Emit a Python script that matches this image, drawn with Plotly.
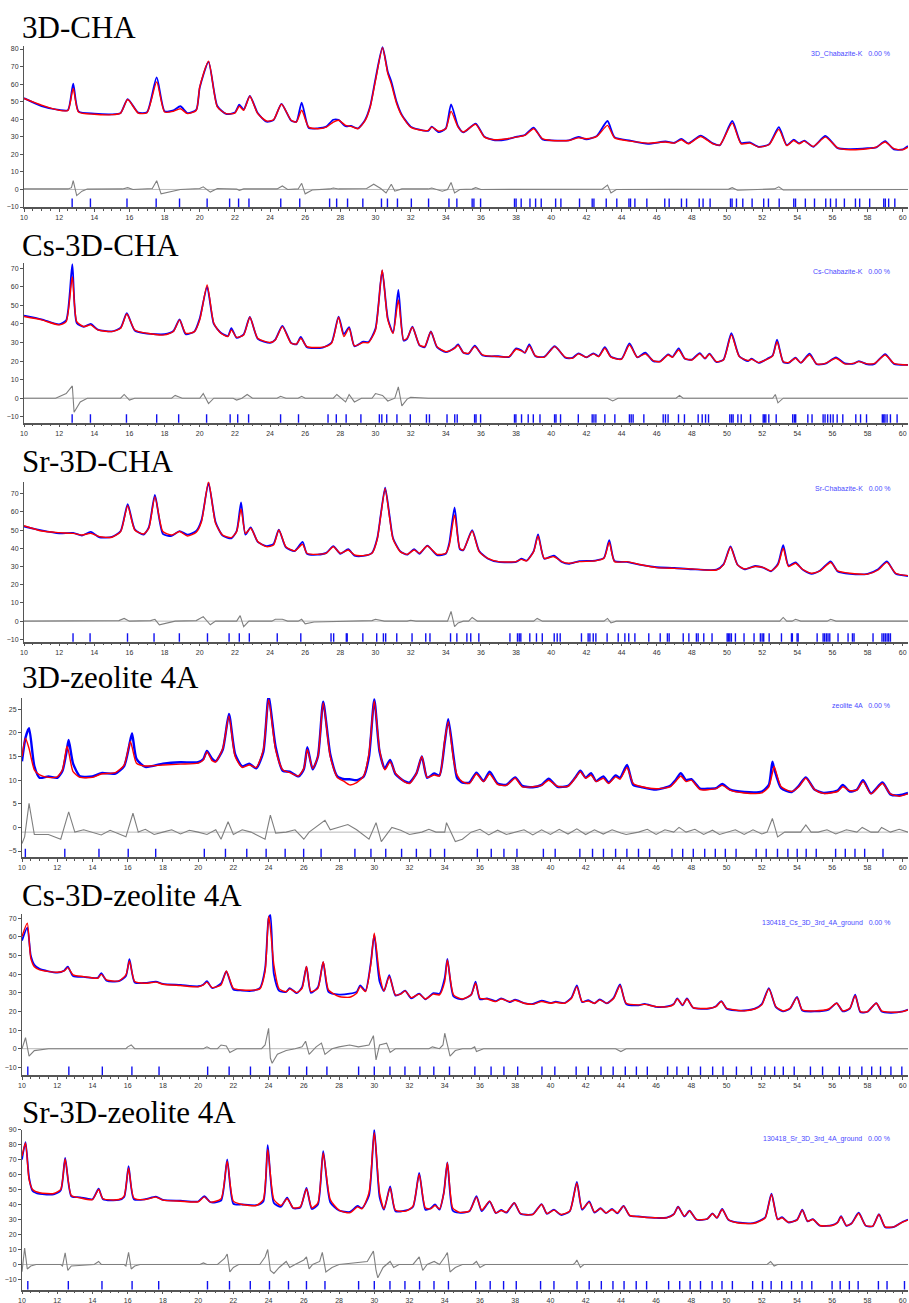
import plotly.graph_objects as go

W, H = 909, 1303

# ======================= DATA =======================
# ---------- Panel 1 : 3D-CHA ----------
p1_tth = [10.0, 11.0, 12.0, 12.5, 12.8, 13.1, 14.0, 15.0, 15.5, 15.9,
          16.5, 17.0, 17.55, 18.0, 18.5, 18.9, 19.3, 19.8, 20.0, 20.5,
          21.0, 21.5, 22.0, 22.25, 22.5, 22.85, 23.3, 23.8, 24.2, 24.65,
          25.2, 25.5, 25.8, 26.2, 26.7, 27.2, 27.6, 27.9, 28.3, 28.6,
          29.0, 29.4, 29.7, 30.0, 30.4, 30.7, 30.9, 31.2, 31.5, 32.0,
          32.45, 33.0, 33.2, 33.6, 34.0, 34.3, 34.7, 35.0, 35.7, 36.2,
          36.8, 37.5, 38.0, 38.5, 39.0, 39.5, 40.0, 41.0, 41.55, 42.0,
          42.6, 43.2, 43.6, 44.5, 45.5, 46.5, 47.0, 47.4, 47.8, 48.5,
          49.2, 49.6, 50.3, 50.8, 51.3, 51.8, 52.4, 52.95, 53.4, 53.8,
          54.1, 54.4, 54.9, 55.6, 56.3, 57.0, 58.0, 58.5, 59.0, 59.5,
          60.0, 60.3]
p1_calc = [51.8, 48.0, 45.1, 45.0, 57.5, 44.1, 42.8, 42.6, 43.5, 51.2,
           43.5, 43.7, 61.3, 44.1, 44.5, 46.0, 43.2, 45.0, 58.4, 73.1,
           47.0, 43.2, 43.5, 47.4, 45.1, 53.1, 43.2, 39.0, 39.7, 48.5,
           39.4, 38.4, 45.1, 35.5, 34.6, 35.5, 38.4, 39.4, 36.5, 35.9,
           34.6, 39.0, 47.0, 62.0, 80.8, 66.0, 60.0, 49.0, 42.0, 35.5,
           34.0, 33.6, 35.5, 33.2, 34.6, 44.5, 35.5, 32.7, 37.1, 29.8,
           28.3, 28.9, 29.8, 30.8, 34.6, 28.9, 27.9, 27.9, 29.4, 28.9,
           30.2, 36.5, 29.4, 27.5, 26.4, 27.0, 26.4, 28.3, 26.0, 30.2,
           26.0, 25.4, 37.8, 26.0, 26.4, 24.1, 25.6, 34.2, 25.0, 27.9,
           26.0, 27.5, 24.5, 29.8, 23.7, 22.6, 23.2, 24.1, 27.0, 23.2,
           22.6, 24.1]
p1_obs = [52.0, 47.5, 45.3, 45.2, 60.3, 44.5, 43.2, 42.8, 43.6, 51.5,
          43.8, 44.0, 63.8, 44.6, 45.0, 47.4, 43.5, 45.3, 58.0, 72.7,
          47.5, 43.0, 43.8, 48.3, 45.5, 53.3, 43.5, 38.6, 39.5, 48.8,
          39.2, 38.6, 49.5, 35.0, 34.8, 35.8, 39.7, 39.6, 36.0, 36.2,
          34.8, 39.5, 47.5, 63.0, 81.0, 67.0, 61.5, 50.0, 42.5, 35.8,
          34.2, 33.4, 35.8, 32.6, 34.8, 48.5, 36.0, 32.5, 37.5, 30.0,
          28.0, 28.6, 30.0, 31.0, 35.2, 28.5, 28.0, 28.0, 30.0, 28.5,
          30.5, 39.0, 29.8, 27.8, 26.0, 27.3, 26.6, 28.8, 26.2, 30.6,
          26.2, 25.2, 39.0, 26.5, 26.8, 24.3, 25.8, 35.5, 25.3, 28.3,
          26.3, 27.8, 24.3, 30.5, 23.5, 23.0, 23.5, 24.0, 27.5, 22.8,
          22.8, 24.8]
p1_diff_tth = [10.0, 12.5, 12.7, 12.8, 13.0, 13.3, 13.6, 15.6, 15.9, 16.2,
               17.3, 17.55, 17.8, 18.2, 18.5, 18.9, 20.0, 20.2, 20.6, 21.0,
               22.1, 22.25, 22.5, 24.4, 24.7, 25.0, 25.6, 25.8, 26.0, 26.4,
               27.4, 27.6, 27.9, 29.5, 29.9, 30.3, 30.6, 30.9, 31.1, 31.5,
               33.0, 33.2, 33.8, 34.1, 34.3, 34.5, 34.8, 35.5, 35.7, 36.0,
               42.9, 43.2, 43.4, 43.7, 50.1, 50.3, 50.6, 52.7, 52.95, 53.2,
               60.3]
p1_diff = [0.3, 0.3, 1.0, 5.0, -3.5, -1.0, 0.2, 0.3, 1.0, 0.0,
           0.5, 5.0, -2.5, -1.5, -1.0, 0.0, 0.5, 1.5, -1.5, 0.5,
           0.2, -0.5, 0.3, 0.3, 2.0, 0.0, 0.3, 3.5, -2.5, -0.3,
           0.3, 0.8, 0.3, 0.5, 3.0, 0.5, -2.0, 3.0, -1.0, 0.3,
           0.3, 0.8, -1.0, 0.0, 4.0, -2.0, 0.0, 0.2, 1.0, 0.0,
           0.2, 2.5, -2.0, 0.0, 0.2, 1.0, -0.5, 0.3, 1.5, -0.3,
           0.0]
p1_refl = [12.74, 13.78, 15.86, 17.52, 18.85, 20.42, 21.70, 22.21, 22.80, 24.61,
           25.69, 27.39, 27.79, 28.41, 29.28, 30.34, 30.68, 31.25, 32.04, 33.02,
           34.18, 34.63, 35.5, 35.6, 35.98, 37.91, 38.0, 38.29, 38.79, 39.11,
           39.43, 40.25, 40.55, 41.61, 42.33, 42.43, 43.13, 43.73, 44.42, 44.51,
           44.76, 45.44, 46.46, 46.71, 47.41, 47.70, 48.42, 48.64, 49.04, 50.2,
           50.29, 50.54, 50.90, 51.43, 52.09, 52.36, 52.97, 53.8, 53.9, 54.46,
           54.98, 55.62, 55.89, 56.21, 56.68, 57.31, 57.55, 58.12, 58.92, 59.01,
           59.2, 59.55]

# ---------- Panel 2 : Cs-3D-CHA ----------
p2_tth = [10.0, 11.0, 12.0, 12.4, 12.75, 13.0, 13.4, 13.8, 14.2, 15.0,
          15.5, 15.85, 16.3, 17.0, 18.0, 18.5, 18.85, 19.2, 19.7, 20.0,
          20.42, 20.8, 21.2, 21.6, 21.8, 22.1, 22.5, 22.85, 23.3, 24.0,
          24.3, 24.7, 25.2, 25.5, 25.75, 26.1, 27.0, 27.5, 27.9, 28.2,
          28.5, 28.8, 29.3, 29.6, 30.0, 30.38, 30.7, 31.0, 31.3, 31.6,
          31.8, 32.1, 32.5, 32.8, 33.15, 33.5, 34.0, 34.5, 34.7, 35.0,
          35.3, 35.65, 36.1, 37.0, 37.6, 38.0, 38.3, 38.5, 38.75, 39.1,
          39.6, 40.2, 40.8, 41.2, 41.55, 42.0, 42.4, 42.7, 43.05, 43.4,
          44.0, 44.45, 44.9, 45.35, 45.8, 46.2, 46.65, 46.9, 47.25, 47.6,
          48.0, 48.45, 48.75, 49.0, 49.4, 49.8, 50.25, 50.7, 51.2, 51.4,
          51.8, 52.3, 52.6, 52.85, 53.2, 53.5, 53.9, 54.2, 54.7, 55.1,
          55.6, 56.2, 56.7, 57.2, 57.5, 58.0, 58.4, 59.0, 59.5, 60.3]
p2_calc = [44.0, 42.2, 39.5, 41.3, 65.5, 41.3, 38.6, 39.5, 36.8, 35.9,
           37.7, 45.4, 36.8, 35.0, 34.1, 35.9, 42.2, 35.0, 35.9, 42.2,
           61.0, 40.4, 35.0, 33.2, 36.8, 32.8, 34.1, 43.6, 32.3, 30.0,
           31.4, 38.6, 29.6, 29.2, 32.3, 27.8, 27.5, 29.6, 43.6, 33.2,
           37.7, 28.2, 30.0, 30.0, 36.8, 69.1, 42.2, 35.0, 52.9, 31.4,
           32.3, 38.2, 28.7, 27.8, 35.9, 27.8, 25.1, 26.9, 28.5, 24.6,
           24.2, 27.8, 23.3, 22.4, 22.4, 26.4, 25.5, 24.6, 28.2, 22.8,
           22.1, 27.8, 22.1, 21.5, 23.9, 22.1, 23.9, 22.4, 26.9, 22.1,
           21.0, 28.7, 22.1, 23.9, 20.3, 19.7, 23.3, 22.1, 26.0, 21.5,
           20.6, 23.9, 21.5, 23.7, 19.7, 20.6, 34.1, 22.4, 20.3, 21.0,
           19.2, 21.0, 22.8, 30.5, 19.7, 19.2, 21.5, 19.2, 23.3, 18.5,
           18.8, 21.5, 18.5, 18.8, 19.7, 18.5, 18.8, 23.3, 18.8, 17.9]
p2_obs = [44.5, 42.5, 39.8, 42.0, 72.3, 40.5, 38.5, 40.0, 37.0, 36.0,
          38.0, 45.8, 36.5, 34.8, 34.5, 36.2, 42.5, 34.5, 36.0, 43.0,
          60.0, 40.0, 35.3, 33.5, 37.7, 32.5, 34.4, 43.8, 32.0, 29.8,
          31.6, 39.0, 29.8, 29.0, 33.0, 27.5, 27.3, 30.0, 44.0, 34.5,
          38.3, 28.0, 30.5, 30.3, 37.5, 68.7, 43.0, 35.3, 58.3, 31.0,
          32.0, 38.5, 28.5, 27.5, 36.0, 27.5, 24.8, 27.2, 29.0, 24.5,
          24.0, 28.3, 23.0, 22.6, 22.2, 26.8, 25.8, 24.4, 29.0, 22.6,
          22.3, 28.0, 21.8, 21.7, 24.2, 22.0, 24.2, 22.6, 27.5, 22.3,
          21.2, 29.5, 22.0, 24.5, 20.0, 19.9, 23.6, 22.3, 26.8, 21.3,
          20.8, 24.3, 21.3, 24.0, 19.5, 20.8, 35.0, 22.6, 20.0, 21.3,
          19.0, 21.3, 23.0, 31.5, 19.5, 19.0, 21.8, 19.0, 24.0, 18.3,
          18.6, 22.0, 18.8, 18.6, 20.0, 18.2, 18.5, 23.8, 18.5, 18.0]
p2_diff_tth = [10.0, 11.8, 12.4, 12.75, 12.85, 13.2, 13.6, 15.5, 15.7, 16.0,
               16.3, 18.4, 18.6, 19.0, 20.0, 20.2, 20.5, 20.8, 21.9, 22.1,
               22.4, 22.7, 23.0, 24.4, 24.6, 24.9, 25.6, 25.8, 26.0, 27.6,
               27.8, 28.3, 28.5, 28.8, 29.2, 29.8, 30.0, 30.4, 30.7, 31.1,
               31.3, 31.5, 31.8, 32.0, 33.0, 43.2, 43.5, 43.8, 47.1, 47.3,
               47.5, 52.6, 52.75, 52.9, 53.2, 60.3]
p2_diff = [0.0, 0.0, 2.5, 6.6, -7.6, -2.0, 0.0, 0.0, 2.0, -1.0,
           0.0, 0.0, 1.5, 0.0, 0.0, 2.5, -2.9, 0.0, 0.0, -1.0,
           0.0, 2.0, 0.0, 0.0, 1.0, 0.0, 0.0, 1.0, 0.0, 0.0,
           2.0, -2.0, 2.0, -2.0, 0.0, 0.0, 2.5, 1.5, -1.5, 0.0,
           6.1, -4.1, -0.5, 0.5, 0.0, 0.0, -1.5, 0.0, 0.0, 1.5,
           0.0, 0.0, 2.0, -2.5, 0.0, 0.0]
p2_refl = [12.74, 13.78, 15.83, 17.55, 18.80, 20.39, 21.73, 22.16, 22.78, 24.60,
           25.62, 27.30, 27.77, 28.33, 29.17, 30.22, 30.36, 30.64, 31.22, 31.98,
           32.90, 33.07, 34.07, 34.51, 34.65, 35.64, 35.72, 35.98, 37.91, 37.99,
           38.31, 38.69, 38.98, 39.36, 40.19, 40.27, 40.53, 41.54, 42.33, 42.43,
           42.54, 43.05, 43.62, 44.45, 44.55, 44.66, 45.27, 46.37, 46.50, 46.65,
           47.24, 47.58, 48.36, 48.59, 48.78, 48.95, 50.16, 50.26, 50.35, 50.62,
           50.81, 51.34, 52.06, 52.13, 52.21, 52.38, 52.80, 53.74, 53.84, 53.91,
           54.60, 54.84, 55.47, 55.58, 55.73, 55.89, 56.04, 56.27, 56.59, 57.33,
           57.60, 57.94, 58.84, 58.92, 58.99, 59.11, 59.30, 59.68]

# ---------- Panel 3 : Sr-3D-CHA ----------
p3_tth = [10.0, 11.0, 12.0, 12.8, 13.3, 13.8, 14.3, 15.0, 15.5, 15.9,
          16.3, 16.8, 17.1, 17.45, 17.9, 18.4, 18.85, 19.3, 19.8, 20.1,
          20.5, 20.9, 21.3, 21.8, 22.1, 22.35, 22.6, 22.9, 23.3, 23.8,
          24.2, 24.5, 24.9, 25.4, 25.85, 26.1, 26.7, 27.2, 27.6, 28.0,
          28.45, 28.8, 29.3, 29.8, 30.1, 30.3, 30.55, 30.8, 31.0, 31.4,
          31.8, 32.2, 32.5, 32.95, 33.5, 34.0, 34.2, 34.5, 34.8, 35.0,
          35.5, 35.9, 36.4, 37.0, 38.0, 38.3, 38.6, 39.0, 39.25, 39.6,
          40.15, 40.6, 41.0, 41.6, 42.5, 43.0, 43.3, 43.6, 44.3, 45.0,
          46.0, 47.0, 48.0, 49.4, 49.8, 50.2, 50.6, 51.0, 51.6, 52.1,
          52.5, 52.9, 53.2, 53.5, 53.9, 54.3, 54.8, 55.3, 55.9, 56.3,
          57.0, 58.0, 58.6, 59.1, 59.6, 60.3]
p3_calc = [52.4, 49.5, 48.6, 48.2, 47.3, 48.2, 46.4, 46.1, 49.2, 63.4,
           50.1, 47.9, 51.0, 68.4, 49.2, 47.3, 49.2, 46.8, 48.8, 54.6,
           76.6, 53.7, 47.3, 45.9, 49.2, 61.6, 48.2, 51.0, 43.7, 40.9,
           41.8, 50.1, 40.9, 38.6, 42.2, 37.3, 36.7, 37.3, 40.9, 37.3,
           39.1, 36.4, 36.0, 37.3, 45.0, 58.0, 72.9, 57.0, 45.0, 38.2,
           36.7, 39.1, 37.3, 41.3, 36.7, 37.3, 41.8, 58.3, 40.0, 39.1,
           49.5, 38.2, 34.5, 32.7, 32.7, 33.9, 33.1, 38.2, 46.8, 34.5,
           35.4, 32.7, 31.8, 32.7, 33.1, 34.5, 43.3, 32.7, 32.7, 31.2,
           29.4, 29.0, 28.7, 28.1, 30.9, 40.6, 30.9, 28.7, 30.0, 29.4,
           27.6, 30.9, 40.0, 30.0, 31.8, 28.5, 26.3, 27.6, 32.2, 27.6,
           26.3, 25.8, 28.1, 32.3, 26.3, 25.0]
p3_obs = [52.0, 49.8, 48.2, 48.5, 47.0, 49.0, 46.0, 46.3, 49.5, 64.2,
          50.5, 47.5, 51.5, 69.3, 48.0, 46.8, 49.5, 47.5, 49.5, 55.5,
          75.7, 54.5, 47.0, 45.5, 49.5, 65.2, 47.5, 51.5, 43.5, 41.2,
          42.5, 50.3, 40.5, 38.5, 43.5, 37.0, 36.5, 37.5, 41.2, 37.0,
          39.5, 36.0, 35.8, 37.5, 45.5, 58.5, 73.3, 58.0, 45.5, 38.5,
          36.5, 39.6, 37.0, 41.5, 36.2, 37.0, 43.0, 62.5, 39.5, 39.0,
          50.0, 38.5, 34.3, 32.5, 32.5, 34.3, 33.3, 38.5, 47.7, 34.3,
          36.0, 32.5, 31.5, 33.0, 33.3, 34.8, 44.5, 33.0, 32.5, 31.0,
          29.6, 29.2, 28.5, 28.3, 31.2, 41.0, 31.0, 28.5, 30.3, 29.2,
          27.4, 31.5, 41.8, 30.5, 32.3, 28.3, 26.0, 27.8, 32.8, 27.3,
          26.0, 26.0, 28.5, 32.8, 26.0, 24.8]
p3_diff_tth = [10.0, 15.4, 15.7, 16.0, 17.2, 17.45, 17.7, 18.2, 18.6, 19.8,
               20.2, 20.6, 20.9, 22.1, 22.3, 22.5, 22.8, 24.1, 24.3, 24.7,
               25.0, 25.6, 25.8, 26.0, 26.5, 29.8, 30.0, 30.5, 31.8, 32.0,
               32.3, 34.1, 34.3, 34.5, 34.7, 35.0, 35.3, 35.5, 35.8, 39.0,
               39.2, 39.5, 43.0, 43.2, 43.4, 43.7, 53.0, 53.2, 53.4, 53.7,
               53.9, 54.2, 55.7, 55.9, 56.2, 60.3]
p3_diff = [0.0, 0.3, 1.5, 0.0, 0.3, 1.0, -2.0, -1.0, 0.0, 0.3,
           2.5, -2.0, 0.0, 0.0, 3.0, -3.0, 0.0, 0.0, 1.0, 1.0,
           0.0, 0.0, 1.0, -1.5, -0.5, 0.3, 1.0, 0.0, 0.0, 0.5,
           0.0, 0.0, 5.3, -3.0, -1.0, 0.0, 0.0, 2.0, 0.0, 0.0,
           1.5, 0.0, 0.0, 1.5, -1.0, 0.0, 0.0, 2.0, 0.0, 0.0,
           1.0, 0.0, 0.0, 1.0, 0.0, 0.0]
p3_refl = [12.79, 13.76, 15.89, 17.40, 18.84, 20.44, 21.67, 22.25, 22.82, 24.41,
           25.75, 27.47, 27.62, 28.34, 28.39, 29.28, 30.07, 30.45, 30.58, 31.21,
           32.08, 32.86, 33.10, 34.27, 34.63, 35.2, 35.42, 35.88, 37.65, 38.08,
           38.18, 38.27, 38.78, 39.16, 39.49, 40.17, 40.34, 40.51, 41.72, 42.1,
           42.2, 42.39, 42.54, 43.18, 43.81, 44.19, 44.41, 44.76, 45.55, 46.2,
           46.61, 46.71, 47.51, 47.83, 48.26, 48.36, 48.68, 49.15, 50.01, 50.08,
           50.16, 50.25, 50.48, 50.97, 51.54, 51.9, 52.0, 52.09, 52.4, 53.1,
           53.67, 53.72, 53.99, 54.05, 55.13, 55.47, 55.56, 55.66, 55.75, 55.85,
           56.32, 56.89, 57.14, 57.23, 58.31, 58.82, 58.92, 59.01, 59.11, 59.2,
           59.3]

# ---------- Panel 4 : 3D-zeolite 4A ----------
p4_tth = [10.0, 10.2, 10.4, 10.7, 11.0, 11.5, 12.0, 12.3, 12.55, 12.65,
          12.9, 13.3, 14.0, 14.5, 15.3, 15.8, 16.15, 16.25, 16.5, 17.0,
          18.0, 19.0, 20.0, 20.3, 20.5, 20.8, 21.0, 21.4, 21.75, 22.1,
          22.5, 22.9, 23.3, 23.7, 24.0, 24.4, 24.8, 25.2, 25.7, 26.0,
          26.2, 26.5, 26.8, 27.1, 27.5, 27.9, 28.3, 28.6, 29.0, 29.4,
          29.7, 30.0, 30.3, 30.6, 30.9, 31.2, 31.7, 32.0, 32.4, 32.7,
          33.0, 33.4, 33.7, 34.0, 34.2, 34.5, 34.7, 35.0, 35.4, 35.8,
          36.2, 36.55, 37.0, 37.5, 38.0, 38.4, 39.0, 39.5, 39.9, 40.4,
          41.0, 41.4, 41.7, 42.0, 42.3, 42.6, 43.0, 43.3, 43.7, 43.95,
          44.35, 44.7, 45.2, 46.0, 46.8, 47.1, 47.4, 47.7, 48.0, 48.5,
          49.0, 49.4, 49.75, 50.2, 51.0, 52.0, 52.4, 52.6, 52.7, 53.1,
          53.7, 54.1, 54.5, 55.0, 55.5, 56.3, 56.6, 57.0, 57.4, 57.75,
          58.2, 58.85, 59.3, 59.8, 60.3]
p4_calc = [15.0, 18.9, 16.7, 12.2, 11.1, 10.6, 10.7, 12.2, 17.2, 16.0,
           11.8, 10.6, 10.6, 11.3, 11.6, 13.2, 18.2, 17.0, 13.6, 13.0,
           13.2, 13.4, 13.6, 14.3, 16.0, 14.1, 13.9, 16.7, 23.6, 15.0,
           12.7, 13.2, 12.7, 16.4, 27.1, 16.4, 12.2, 11.6, 10.9, 12.5,
           16.5, 12.5, 15.0, 26.4, 15.0, 10.6, 9.7, 9.0, 9.5, 10.9,
           15.7, 26.8, 16.4, 12.2, 13.9, 11.5, 9.7, 9.3, 11.5, 15.0,
           10.6, 11.1, 10.9, 18.5, 22.4, 14.3, 11.1, 9.7, 9.3, 11.3,
           9.7, 11.3, 9.1, 8.9, 10.4, 8.6, 8.6, 8.9, 10.0, 8.7,
           8.7, 10.4, 11.8, 10.4, 11.1, 9.7, 10.4, 9.3, 10.7, 10.2,
           12.7, 9.3, 8.6, 8.2, 8.6, 9.7, 10.9, 9.7, 10.0, 8.0,
           8.0, 8.2, 8.9, 7.9, 7.3, 7.3, 8.6, 11.5, 12.9, 8.6,
           7.6, 8.6, 10.4, 8.0, 7.2, 7.6, 8.6, 7.8, 7.9, 9.7,
           7.1, 9.3, 7.1, 6.6, 7.1]
p4_obs = [14.0, 19.0, 21.0, 13.0, 10.5, 10.8, 10.5, 12.0, 16.5, 18.5,
          13.5, 10.8, 10.8, 11.5, 11.4, 13.0, 18.5, 19.9, 14.5, 12.8,
          13.5, 13.8, 13.8, 14.5, 16.2, 14.5, 14.0, 16.5, 24.0, 15.5,
          12.9, 13.5, 12.5, 16.0, 27.7, 17.0, 12.0, 11.8, 10.8, 12.3,
          17.0, 12.3, 15.0, 26.6, 15.5, 10.8, 10.2, 10.2, 10.0, 10.8,
          15.0, 27.1, 16.0, 12.5, 14.3, 11.3, 9.8, 9.5, 11.5, 15.0,
          10.5, 11.4, 11.0, 18.0, 22.9, 15.0, 10.5, 9.5, 9.5, 11.6,
          9.8, 11.8, 9.3, 9.0, 10.6, 8.8, 8.5, 9.0, 10.3, 8.6,
          8.8, 10.5, 12.0, 10.5, 11.5, 9.8, 10.8, 9.5, 11.0, 10.5,
          13.2, 9.0, 8.5, 8.0, 8.8, 10.0, 11.5, 10.0, 10.2, 8.2,
          8.2, 8.3, 9.2, 8.0, 7.5, 7.6, 9.0, 13.9, 12.5, 8.3,
          7.5, 8.8, 10.6, 8.0, 7.3, 7.8, 9.0, 7.6, 8.0, 10.0,
          7.2, 9.5, 7.0, 6.8, 7.3]
p4_diff_tth = [10.0, 10.15, 10.4, 10.7, 11.5, 12.2, 12.65, 13.0, 13.5, 14.0,
               14.5, 15.0, 15.5, 15.9, 16.3, 16.6, 17.0, 17.5, 18.0, 18.5,
               19.0, 19.5, 20.0, 20.5, 21.0, 21.3, 21.7, 22.0, 22.5, 23.0,
               23.8, 24.1, 24.4, 25.0, 25.5, 26.0, 26.3, 27.2, 27.5, 28.5,
               29.0, 29.7, 30.1, 30.4, 31.0, 31.5, 32.0, 32.7, 33.1, 33.5,
               34.0, 34.1, 34.6, 35.0, 35.5, 36.0, 36.5, 37.0, 37.5, 38.0,
               38.5, 39.0, 39.5, 40.0, 40.5, 41.0, 41.5, 42.0, 42.5, 43.0,
               43.5, 44.0, 44.3, 45.0, 45.5, 46.0, 46.5, 47.0, 47.3, 47.7,
               48.2, 48.7, 49.2, 49.6, 50.0, 50.5, 51.0, 51.5, 52.0, 52.3,
               52.6, 52.9, 53.3, 54.2, 54.5, 54.8, 55.2, 55.7, 56.2, 56.8,
               57.4, 57.7, 58.2, 58.6, 58.8, 59.3, 59.8, 60.3]
p4_diff = [-3.4, -2.0, 5.1, -1.5, -1.5, -2.5, 3.3, -1.0, -0.5, -1.0,
           -1.6, -0.6, -1.4, -2.0, 3.0, -1.0, -0.4, -1.5, -1.0, -0.5,
           -1.4, -0.6, -1.0, -1.5, -0.5, -2.5, 1.2, -1.5, -0.5, -1.0,
           -2.5, 2.6, -1.2, -1.0, -0.5, -2.5, -1.0, 1.5, -0.5, 0.6,
           -0.5, -2.5, 1.0, -3.0, 0.0, -0.6, -1.5, -1.0, -0.4, -1.0,
           -1.0, 1.0, -3.0, -2.5, -1.0, -0.4, -1.6, -0.6, -1.5, -1.0,
           -0.5, -1.6, -0.5, -1.5, -0.4, -1.4, -0.3, -1.5, -0.5, -1.4,
           -0.5, -1.2, -1.5, -1.0, -0.4, -1.5, -0.5, -1.0, 0.0, -1.0,
           -0.4, -1.5, -0.6, -1.5, -1.0, -0.5, -1.5, -0.5, -1.4, -1.0,
           1.9, -2.0, -1.0, -1.0, 0.5, -1.0, -1.0, -0.5, -1.4, -0.5,
           -1.0, 0.0, -1.0, -1.0, 0.0, -1.0, -0.4, -1.0]
p4_refl = [10.19, 12.43, 14.37, 16.03, 17.59, 20.35, 21.55, 22.76, 23.86, 24.94,
           25.99, 26.98, 28.90, 29.81, 30.65, 31.55, 32.39, 33.19, 33.99, 35.85,
           36.64, 37.36, 38.1, 39.6, 40.27, 41.67, 42.39, 43.01, 43.70, 44.34,
           45.0, 45.63, 46.9, 47.51, 48.11, 48.76, 49.36, 49.93, 50.54, 51.68,
           52.25, 52.89, 53.48, 54.01, 54.52, 55.09, 56.19, 56.74, 57.29, 57.84,
           58.88]

# ---------- Panel 5 : Cs-3D-zeolite 4A ----------
p5_tth = [10.0, 10.3, 10.5, 10.7, 11.0, 12.0, 12.4, 12.6, 12.9, 13.5,
          14.3, 14.5, 14.8, 15.5, 15.9, 16.1, 16.4, 17.0, 17.6, 18.0,
          19.0, 20.0, 20.3, 20.5, 20.8, 21.3, 21.6, 22.0, 22.5, 23.0,
          23.5, 23.8, 24.0, 24.1, 24.3, 24.6, 25.0, 25.2, 25.6, 25.9,
          26.15, 26.4, 26.8, 27.1, 27.4, 28.0, 28.6, 29.0, 29.2, 29.5,
          29.8, 30.0, 30.3, 30.55, 30.85, 31.2, 31.5, 31.75, 32.1, 32.55,
          32.9, 33.35, 33.7, 34.0, 34.15, 34.5, 35.0, 35.5, 35.75, 36.0,
          36.4, 36.9, 37.2, 37.7, 38.0, 38.5, 39.0, 39.5, 40.0, 40.3,
          40.8, 41.2, 41.5, 41.8, 42.15, 42.5, 42.8, 43.2, 43.6, 43.95,
          44.3, 45.0, 45.35, 46.0, 46.7, 47.0, 47.2, 47.5, 47.75, 48.1,
          49.0, 49.4, 49.7, 50.0, 50.5, 51.0, 51.6, 52.0, 52.4, 52.8,
          53.2, 53.6, 54.0, 54.3, 55.0, 55.8, 56.25, 56.6, 57.0, 57.3,
          57.6, 58.0, 58.5, 58.8, 59.3, 60.0, 60.3]
p5_calc = [60.2, 67.3, 48.5, 44.0, 42.3, 41.0, 41.7, 43.5, 39.6, 38.7,
           37.8, 39.9, 36.9, 36.4, 39.6, 47.1, 36.0, 35.1, 35.7, 34.6,
           33.9, 33.2, 34.2, 35.7, 32.8, 34.2, 41.7, 32.4, 31.5, 31.4,
           32.1, 41.4, 70.9, 65.0, 45.0, 32.1, 30.6, 32.1, 30.1, 32.4,
           44.1, 30.6, 32.4, 46.7, 31.5, 28.0, 27.6, 29.7, 33.3, 30.6,
           45.0, 62.0, 39.6, 31.0, 38.7, 28.9, 29.3, 31.0, 27.4, 29.3,
           26.7, 29.3, 28.9, 36.0, 47.6, 28.9, 26.7, 28.9, 35.1, 27.1,
           26.7, 25.3, 26.7, 25.3, 26.0, 24.4, 23.8, 25.3, 24.4, 24.9,
           24.4, 27.1, 33.3, 25.3, 25.6, 24.4, 26.2, 24.4, 27.1, 33.9,
           24.4, 23.5, 23.8, 22.6, 22.6, 23.8, 26.7, 23.5, 26.7, 22.1,
           21.7, 22.6, 25.3, 21.7, 20.8, 20.3, 21.3, 23.5, 32.1, 22.6,
           20.3, 21.7, 27.4, 20.8, 20.3, 21.3, 24.4, 20.3, 21.7, 28.5,
           19.9, 19.9, 24.4, 20.3, 19.6, 19.9, 20.8]
p5_obs = [58.0, 65.0, 50.0, 45.0, 42.8, 40.8, 42.0, 44.0, 39.0, 38.5,
          38.0, 40.5, 36.5, 36.2, 39.0, 48.0, 35.5, 35.3, 36.0, 34.8,
          34.2, 33.5, 34.5, 36.2, 32.5, 35.0, 41.5, 31.8, 31.2, 31.0,
          32.5, 43.0, 70.0, 71.8, 40.0, 31.0, 30.5, 32.5, 29.8, 33.0,
          44.0, 30.0, 33.0, 46.5, 30.5, 29.0, 29.5, 30.5, 34.0, 31.0,
          46.0, 61.0, 36.0, 31.0, 39.5, 28.5, 29.5, 31.2, 27.0, 29.5,
          26.5, 29.8, 29.5, 38.0, 48.2, 28.0, 26.5, 29.0, 36.0, 26.5,
          27.0, 25.5, 27.0, 25.0, 26.3, 24.5, 24.0, 25.8, 24.6, 25.2,
          24.5, 27.5, 34.0, 25.0, 26.0, 24.3, 26.5, 24.3, 27.5, 34.5,
          24.0, 23.3, 24.0, 22.4, 22.8, 24.0, 27.0, 23.3, 27.0, 22.0,
          21.5, 22.8, 25.5, 21.5, 20.6, 20.5, 21.5, 24.0, 32.5, 22.3,
          20.0, 21.5, 27.8, 20.5, 20.0, 21.0, 24.5, 20.0, 21.5, 29.0,
          19.5, 19.8, 24.5, 20.0, 19.3, 20.0, 21.0]
p5_diff_tth = [10.0, 10.2, 10.4, 10.7, 11.5, 15.9, 16.0, 16.2, 16.4, 20.3,
               20.5, 20.7, 21.1, 21.3, 21.6, 21.8, 22.2, 23.6, 23.8, 24.0,
               24.1, 24.2, 24.5, 25.0, 25.5, 25.9, 26.1, 26.3, 26.7, 27.0,
               27.2, 27.6, 28.0, 28.6, 29.1, 29.7, 29.95, 30.1, 30.3, 30.7,
               30.9, 31.2, 33.1, 33.3, 33.7, 33.9, 34.0, 34.3, 34.6, 35.0,
               35.5, 35.7, 35.8, 36.2, 43.7, 44.0, 44.3, 60.3]
p5_diff = [0.0, 5.9, -4.0, -1.0, 0.0, 0.0, 1.0, 2.0, 0.0, 0.0,
           1.0, 0.0, 0.0, 2.0, 1.5, -2.0, 0.0, 0.0, 2.0, 10.9,
           -5.0, -7.8, -3.0, -1.0, 0.0, 1.0, 4.0, -3.0, 1.0, 3.0,
           -3.0, 0.0, 1.0, 2.0, 1.0, 2.0, 7.0, -6.0, 2.0, 3.0,
           -2.0, 0.0, 0.0, 1.0, 0.0, 2.0, 8.3, -4.0, -1.0, 0.0,
           0.0, 1.0, -1.5, 0.0, 0.0, -1.5, 0.0, 0.0]
p5_refl = [10.33, 12.66, 14.56, 16.24, 17.78, 20.54, 21.76, 22.97, 24.06, 25.17,
           26.16, 27.31, 29.11, 30.0, 30.89, 31.74, 32.59, 33.38, 34.27, 35.71,
           36.63, 37.36, 38.14, 39.52, 40.25, 41.46, 42.15, 42.87, 43.56, 44.25,
           44.88, 45.5, 46.65, 47.18, 47.83, 48.52, 49.21, 49.80, 50.56, 51.41,
           52.17, 52.73, 53.22, 53.84, 54.76, 55.45, 56.40, 56.99, 57.68, 58.24,
           58.74, 59.33, 59.95]

# ---------- Panel 6 : Sr-3D-zeolite 4A ----------
p6_tth = [10.0, 10.2, 10.4, 10.6, 11.0, 11.8, 12.2, 12.45, 12.8, 13.3,
          14.0, 14.35, 14.6, 15.5, 15.8, 16.05, 16.35, 17.0, 17.6, 18.0,
          19.0, 20.0, 20.35, 20.7, 21.3, 21.65, 22.0, 22.5, 23.3, 23.7,
          23.95, 24.3, 24.7, 25.05, 25.4, 25.8, 26.15, 26.45, 26.8, 27.1,
          27.5, 28.0, 28.6, 29.05, 29.3, 29.7, 30.0, 30.3, 30.55, 30.9,
          31.2, 31.8, 32.2, 32.55, 32.9, 33.2, 33.45, 33.7, 33.95, 34.15,
          34.45, 34.8, 35.4, 35.8, 36.1, 36.55, 36.9, 37.2, 37.5, 37.95,
          38.3, 39.0, 39.5, 39.8, 40.2, 40.6, 41.1, 41.5, 41.8, 42.2,
          42.5, 42.85, 43.15, 43.5, 43.8, 44.15, 44.5, 45.0, 46.0, 46.6,
          47.0, 47.25, 47.6, 47.9, 48.3, 48.9, 49.2, 49.45, 49.75, 50.1,
          50.6, 51.5, 51.9, 52.2, 52.55, 52.9, 53.15, 53.5, 54.0, 54.3,
          54.6, 54.9, 55.3, 56.0, 56.3, 56.5, 56.8, 57.1, 57.5, 57.9,
          58.3, 58.65, 59.0, 59.5, 60.0, 60.3]
p6_calc = [72.2, 81.1, 56.7, 50.0, 47.8, 47.3, 50.0, 70.4, 46.0, 44.4,
           43.3, 50.0, 43.8, 43.3, 45.6, 64.4, 44.4, 43.3, 44.9, 42.9,
           42.2, 41.8, 45.1, 41.6, 43.8, 68.9, 42.2, 40.0, 39.3, 43.3,
           76.7, 43.3, 39.3, 43.8, 37.8, 38.4, 50.4, 37.8, 41.1, 74.4,
           43.3, 36.2, 34.4, 38.4, 37.1, 47.8, 87.8, 47.8, 37.1, 51.1,
           36.2, 35.6, 38.9, 60.0, 37.8, 37.1, 39.3, 37.1, 47.8, 67.8,
           37.8, 34.9, 35.6, 44.9, 36.2, 42.2, 34.4, 36.0, 34.9, 41.1,
           34.0, 33.3, 40.0, 34.0, 36.2, 33.3, 35.6, 54.4, 37.1, 41.6,
           34.9, 37.3, 34.4, 36.7, 34.4, 38.9, 32.7, 31.8, 31.1, 31.1,
           33.3, 38.4, 32.2, 35.6, 30.0, 30.4, 33.8, 31.1, 36.7, 30.0,
           27.8, 27.3, 28.9, 31.1, 46.7, 30.0, 31.1, 28.2, 29.6, 36.2,
           28.9, 30.0, 26.0, 26.0, 27.8, 31.8, 26.0, 27.3, 34.0, 26.0,
           25.6, 33.3, 25.1, 25.1, 28.2, 29.6]
p6_obs = [70.0, 81.6, 58.0, 49.0, 47.0, 46.8, 49.5, 71.0, 45.5, 44.8,
          43.5, 50.5, 43.5, 43.0, 45.0, 65.5, 43.5, 43.5, 45.3, 43.0,
          42.5, 42.0, 45.5, 41.5, 42.5, 70.0, 40.5, 40.0, 39.5, 42.0,
          79.6, 41.0, 38.5, 44.5, 37.5, 38.0, 51.0, 37.0, 40.0, 75.6,
          41.5, 36.0, 35.0, 39.0, 37.5, 46.0, 90.0, 45.0, 36.5, 52.0,
          35.5, 36.0, 38.5, 61.0, 36.5, 37.5, 40.0, 36.5, 48.0, 68.0,
          36.0, 34.5, 35.5, 45.5, 35.5, 42.0, 34.3, 36.3, 34.5, 41.0,
          33.8, 33.5, 40.3, 33.8, 36.5, 33.0, 35.5, 55.0, 36.5, 42.0,
          34.5, 37.5, 34.2, 37.0, 34.0, 39.0, 32.5, 32.0, 31.0, 31.3,
          33.5, 38.5, 32.0, 35.8, 29.8, 30.3, 34.0, 31.0, 37.0, 29.8,
          28.0, 27.5, 29.3, 31.5, 47.3, 30.0, 31.5, 28.0, 29.8, 36.5,
          28.7, 30.2, 25.8, 26.2, 28.0, 32.2, 25.8, 27.5, 34.5, 25.8,
          25.5, 33.5, 24.8, 25.0, 28.5, 30.0]
p6_diff_tth = [10.0, 10.15, 10.3, 10.5, 10.8, 12.2, 12.3, 12.45, 12.6, 12.8,
               14.1, 14.35, 14.5, 15.8, 15.9, 16.05, 16.2, 16.4, 16.7, 20.1,
               20.3, 20.5, 21.1, 21.3, 21.5, 21.65, 21.8, 22.0, 22.3, 23.5,
               23.8, 23.95, 24.1, 24.3, 24.6, 25.0, 25.2, 25.5, 26.0, 26.15,
               26.3, 26.5, 26.9, 27.05, 27.25, 27.6, 28.0, 29.6, 29.95, 30.1,
               30.2, 30.5, 30.9, 31.1, 31.4, 32.2, 32.4, 32.55, 32.75, 33.0,
               33.4, 33.7, 34.0, 34.15, 34.3, 34.6, 35.0, 35.6, 35.8, 36.0,
               36.3, 41.3, 41.4, 41.5, 41.7, 41.9, 52.3, 52.5, 52.7, 52.9,
               60.3]
p6_diff = [-4.9, 10.9, -3.0, -1.0, 0.0, 0.0, -1.0, 7.8, -4.0, -1.0,
           0.0, 2.0, 0.0, 0.0, -1.0, 8.0, -3.0, -1.0, 0.0, 0.0,
           1.0, 0.0, 0.0, 2.0, 4.0, 7.0, -5.0, -2.0, 0.0, 0.0,
           5.0, 10.0, -4.0, -6.0, -2.0, 2.0, -2.0, 0.0, 3.0, 5.0,
           -3.0, 0.0, 2.0, 8.0, -5.0, -2.0, 0.0, 2.0, 8.9, -4.0,
           -8.9, -2.0, 2.0, -2.0, 0.0, 0.0, 3.0, 5.0, -4.0, 0.0,
           2.0, 0.0, 5.0, 8.0, -5.0, -2.0, 0.0, 0.0, 2.0, -2.0,
           0.0, 0.0, 1.0, 3.0, -2.0, 0.0, 0.0, 2.0, -1.0, 0.0,
           0.0]
p6_refl = [10.33, 12.63, 14.54, 16.25, 17.76, 20.53, 21.78, 22.96, 24.05, 25.13,
           26.15, 27.2, 29.11, 30.0, 30.89, 31.74, 32.57, 33.39, 34.21, 35.76,
           36.58, 37.34, 38.06, 39.44, 40.20, 41.51, 42.20, 42.89, 43.55, 44.18,
           44.87, 45.46, 46.71, 47.34, 47.93, 48.52, 49.18, 49.74, 50.33, 51.48,
           52.04, 52.53, 53.13, 53.69, 54.28, 54.84, 55.99, 56.45, 56.97, 57.47,
           58.62, 59.11, 60.1]

titles = ["3D-CHA", "Cs-3D-CHA", "Sr-3D-CHA",
          "3D-zeolite 4A", "Cs-3D-zeolite 4A", "Sr-3D-zeolite 4A"]
phases = ["3D_Chabazite-K   0.00 %", "Cs-Chabazite-K   0.00 %",
          "Sr-Chabazite-K   0.00 %", "zeolite 4A   0.00 %",
          "130418_Cs_3D_3rd_4A_ground   0.00 %",
          "130418_Sr_3D_3rd_4A_ground   0.00 %"]
diff_base = [0, 0, 0, -1, 0, 0]
y_ranges = [(-10, 82), (-13.2, 72.7), (-11.3, 76.6),
            (-6.33, 27.4), (-14.1, 72.1), (-16.7, 90)]
y_dticks = [10, 10, 10, 5, 10, 10]

series = [
    (p1_tth, p1_obs, p1_calc, p1_diff_tth, p1_diff, p1_refl),
    (p2_tth, p2_obs, p2_calc, p2_diff_tth, p2_diff, p2_refl),
    (p3_tth, p3_obs, p3_calc, p3_diff_tth, p3_diff, p3_refl),
    (p4_tth, p4_obs, p4_calc, p4_diff_tth, p4_diff, p4_refl),
    (p5_tth, p5_obs, p5_calc, p5_diff_tth, p5_diff, p5_refl),
    (p6_tth, p6_obs, p6_calc, p6_diff_tth, p6_diff, p6_refl),
]

# ======================= LAYOUT GEOMETRY (pixels) =======================
px_top = [45.5, 263.3, 481.7, 698.0, 914.3, 1129.5]
px_bot = [207.0, 422.7, 641.7, 857.3, 1075.0, 1289.5]
px_left = [24, 24, 24, 22, 22, 22]
px_right = 908
title_base = [37, 255, 471, 687.3, 905, 1121.7]
phase_y = [54.3, 271.7, 488.3, 705.7, 922.7, 1139.3]
X_RANGE = [10, 60.3]

fig = go.Figure()
layout = dict(
    width=W, height=H, margin=dict(l=0, r=0, t=0, b=0),
    paper_bgcolor="white", plot_bgcolor="white", showlegend=False,
    annotations=[], shapes=[],
)

AX = "#555555"
TXT = "#333333"

for i in range(6):
    n = i + 1
    xa = "x" if n == 1 else f"x{n}"
    ya = "y" if n == 1 else f"y{n}"
    tth, obs, calc, dtth, dval, refl = series[i]
    y0, y1 = y_ranges[i]
    scale = (px_bot[i] - px_top[i]) / (y1 - y0)
    tick_y = y0 + 3.6 / scale

    xkey = "xaxis" if n == 1 else f"xaxis{n}"
    ykey = "yaxis" if n == 1 else f"yaxis{n}"
    layout[xkey] = dict(
        domain=[px_left[i] / W, px_right / W], range=X_RANGE, anchor=ya,
        showline=True, linecolor=AX, linewidth=1.5, mirror=False,
        ticks="outside", ticklen=3, tickwidth=1, tickcolor=AX,
        tick0=10, dtick=2, showgrid=False, zeroline=False, automargin=False,
        tickfont=dict(family="Liberation Sans, Arial", size=7, color=TXT),
        minor=dict(ticks="outside", ticklen=2, dtick=0.5, tickcolor=AX, showgrid=False),
    )
    layout[ykey] = dict(
        domain=[1 - px_bot[i] / H, 1 - px_top[i] / H], range=[y0, y1], anchor=xa,
        showline=True, linecolor=AX, linewidth=1, automargin=False,
        ticks="outside", ticklen=3, tickwidth=1, tickcolor=AX,
        dtick=y_dticks[i], tick0=0, showgrid=False, zeroline=False,
        tickfont=dict(family="Liberation Sans, Arial", size=7, color=TXT),
    )

    # baseline of difference curve
    layout["shapes"].append(dict(
        type="line", xref=f"{xa} domain", yref=ya, x0=0, x1=1,
        y0=diff_base[i], y1=diff_base[i],
        line=dict(color="#b8b8b8", width=1), layer="below"))

    # difference curve
    fig.add_trace(go.Scatter(x=dtth, y=dval, xaxis=xa, yaxis=ya, mode="lines",
                             line=dict(color="#7f7f7f", width=1.1), hoverinfo="skip"))
    # observed
    fig.add_trace(go.Scatter(x=tth, y=obs, xaxis=xa, yaxis=ya, mode="lines",
                             line=dict(color="#0000ff", width=2.4 if n == 4 else 1.8,
                                       shape="spline", smoothing=0.6),
                             hoverinfo="skip"))
    # calculated
    fig.add_trace(go.Scatter(x=tth, y=calc, xaxis=xa, yaxis=ya, mode="lines",
                             line=dict(color="#ff0000", width=1.4,
                                       shape="spline", smoothing=0.6),
                             hoverinfo="skip"))
    # reflection positions
    fig.add_trace(go.Scatter(x=refl, y=[tick_y] * len(refl), xaxis=xa, yaxis=ya,
                             mode="markers", hoverinfo="skip",
                             marker=dict(symbol="line-ns", size=7,
                                         line=dict(color="#1010f0", width=1.4))))

    # panel title
    layout["annotations"].append(dict(
        text=titles[i], xref="paper", yref="paper",
        x=20 / W, y=1 - (title_base[i] + 10) / H, xanchor="left", yanchor="bottom",
        showarrow=False, font=dict(family="Liberation Serif, Times New Roman", size=31, color="black")))
    # phase label
    layout["annotations"].append(dict(
        text=phases[i], xref="paper", yref="paper",
        x=892 / W, y=1 - phase_y[i] / H, xanchor="right", yanchor="middle",
        showarrow=False, font=dict(family="Liberation Sans, Arial", size=7, color="#4a4aff")))

fig.update_layout(**layout)
fig.write_html("out.html", config={"displayModeBar": False},
               post_script="document.body.style.margin='0px';document.body.style.padding='0px';")
